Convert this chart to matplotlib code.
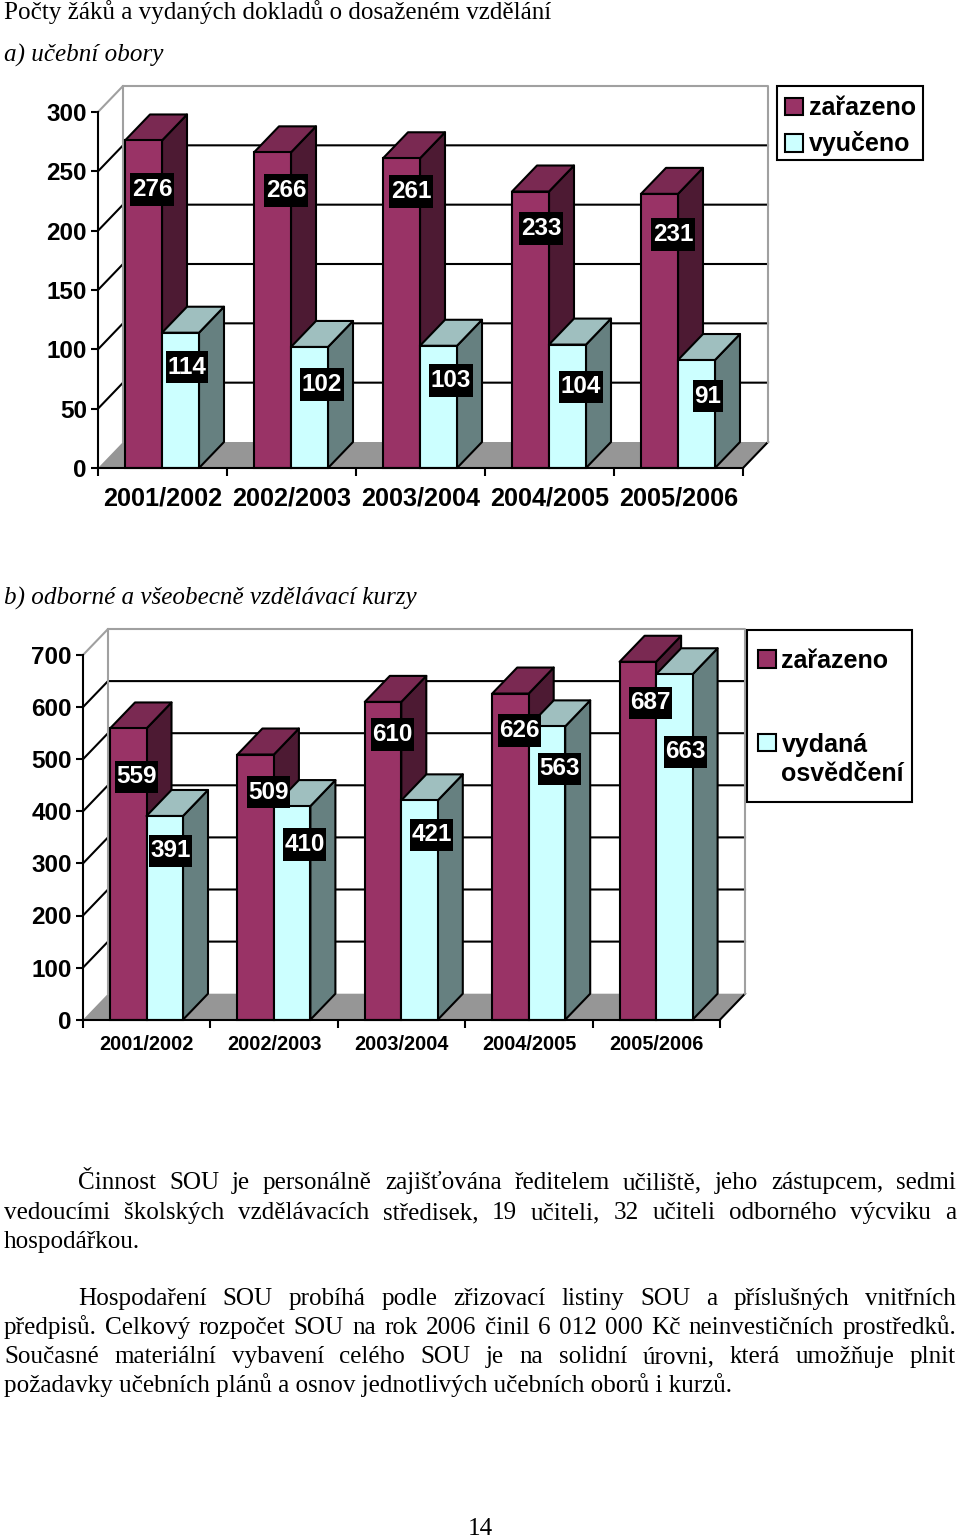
import matplotlib
matplotlib.use("Agg")
import matplotlib.pyplot as plt
from matplotlib.patches import Patch, Polygon, Rectangle

W, H = 960, 1537

# ==============================
# data
# ==============================
years = ["2001/2002", "2002/2003", "2003/2004", "2004/2005", "2005/2006"]

zarazeno_a = [276, 266, 261, 233, 231]
vyuceno_a = [114, 102, 103, 104, 91]
zarazeno_b = [559, 509, 610, 626, 687]
osvedceni_b = [391, 410, 421, 563, 663]

ticks_a = [0, 50, 100, 150, 200, 250, 300]
ticks_b = [0, 100, 200, 300, 400, 500, 600, 700]

# label offsets from the top centre of each bar, pixels (right, down)
label_off_a1 = [(8.5, 48.6), (13.5, 37.7), (9.5, 32.8), (10.5, 36.6), (13.5, 40.2)]
label_off_a2 = [(6.5, 34.3), (12.5, 37.1), (12.5, 34.3), (13.5, 42.4), (11.5, 36.0)]
label_off_b1 = [(8.5, 48.5), (13.0, 37.5), (9.7, 33.0), (9.3, 36.5), (12.9, 41.2)]
label_off_b2 = [(5.8, 35.0), (12.4, 38.0), (12.0, 34.6), (12.6, 42.6), (11.2, 77.7)]

body_lines = [
    ("Činnost SOU je personálně zajišťována ředitelem učiliště, jeho zástupcem, sedmi", 78, 956, 1189),
    ("vedoucími školských vzdělávacích středisek, 19 učiteli, 32 učiteli odborného výcviku a", 4, 956, 1219),
    ("hospodářkou.", 4, None, 1248),
    ("Hospodaření SOU probíhá podle zřizovací listiny SOU a příslušných vnitřních", 78, 956, 1305),
    ("předpisů. Celkový rozpočet SOU na rok 2006 činil 6 012 000 Kč neinvestičních prostředků.", 4, 956, 1334),
    ("Současné materiální vybavení celého SOU je na solidní úrovni, která umožňuje plnit", 4, 956, 1363),
    ("požadavky učebních plánů a osnov jednotlivých učebních oborů i kurzů.", 4, None, 1392),
]

# colours
MAROON = ("#993366", "#4D1A33", "#7A2952")   # front, side, top
CYAN = ("#CCFFFF", "#668080", "#9FBFBF")
FLOOR = "#969696"
WALL = "#A0A0A0"
SANS = "Liberation Sans"
SERIF = "Liberation Serif"
SERIF_SIZE = 18.1

LW = 1.5
plt.rcParams["font.family"] = [SANS, "DejaVu Sans"]
fig = plt.figure(figsize=(W / 100, H / 100), dpi=100)


def fy(y):
    return 1 - y / H


def draw_chart(x0, x1, y_base, y_top, ymax, ticks, s1, s2, off1, off2, xlabel_size, xlabel_pad, bar_off, bar_w, depth):
    ax = fig.add_axes([x0 / W, fy(y_base), (x1 - x0) / W, (y_base - y_top) / H])
    ax.set_xlim(0, 5)
    ax.set_ylim(0, ymax)
    ax.patch.set_visible(False)

    cat_px = (x1 - x0) / 5
    val_px = (y_base - y_top) / ymax
    dx = depth[0] / cat_px
    dy = depth[1] / val_px
    off = bar_off / cat_px
    bw = bar_w / cat_px

    # floor and walls
    ax.add_patch(Polygon([(0, 0), (5, 0), (5 + dx, dy), (dx, dy)], fc=FLOOR, ec="none", clip_on=False, zorder=1))
    ax.plot([5, 5 + dx], [0, dy], color="black", lw=LW, clip_on=False, zorder=1.5)
    for t in ticks[1:-1]:
        ax.plot([0, dx, 5 + dx], [t, t + dy, t + dy], color="black", lw=LW, clip_on=False, zorder=1.5)
    ax.plot([0, dx, 5 + dx, 5 + dx], [ymax, ymax + dy, ymax + dy, dy], color=WALL, lw=LW, clip_on=False, zorder=1.6)
    ax.plot([dx, dx], [dy, ymax + dy], color=WALL, lw=LW, clip_on=False, zorder=1.6)

    # bars, back to front
    z = 2
    for i in range(len(s1)):
        for j, (v, cols) in enumerate([(s1[i], MAROON), (s2[i], CYAN)]):
            left = i + off + j * bw
            right = left + bw
            ax.add_patch(Polygon([(right, 0), (right + dx, dy), (right + dx, v + dy), (right, v)],
                                 fc=cols[1], ec="black", lw=LW, joinstyle="round", clip_on=False, zorder=z))
            ax.add_patch(Polygon([(left, v), (right, v), (right + dx, v + dy), (left + dx, v + dy)],
                                 fc=cols[2], ec="black", lw=LW, joinstyle="round", clip_on=False, zorder=z))
            ax.bar(left, v, width=bw, align="edge", color=cols[0], edgecolor="black", linewidth=LW,
                   clip_on=False, zorder=z + 0.5)
            z += 1

    # value labels
    for j, (vals, offs) in enumerate([(s1, off1), (s2, off2)]):
        for i, v in enumerate(vals):
            ax.annotate(str(v), xy=(i + off + (j + 0.5) * bw, v),
                        xytext=(offs[i][0], -offs[i][1]), textcoords="offset pixels",
                        ha="center", va="center", color="white", fontsize=17.5, fontweight="bold",
                        bbox=dict(boxstyle="square,pad=0.06", mutation_aspect=3.4, fc="black", ec="none"),
                        annotation_clip=False, zorder=50)

    # axes
    for s in ("top", "right"):
        ax.spines[s].set_visible(False)
    for s in ("left", "bottom"):
        ax.spines[s].set_linewidth(LW)
        ax.spines[s].set_zorder(40)
    ax.set_yticks(ticks)
    ax.tick_params(axis="y", length=5, width=LW, pad=3, labelsize=17.5)
    for lab in ax.get_yticklabels():
        lab.set_fontweight("bold")
    ax.set_xticks(range(6), labels=[""] * 6)
    ax.set_xticks([i + 0.5 for i in range(5)], labels=years, minor=True)
    ax.tick_params(axis="x", which="major", length=5.5, width=LW)
    ax.tick_params(axis="x", which="minor", length=0, pad=xlabel_pad, labelsize=xlabel_size)
    for lab in ax.get_xticklabels(minor=True):
        lab.set_fontweight("bold")
    return ax


def add_legend(ax, labels, box, anchor, spacing, handle_shift=0):
    # frame drawn apart so its size can follow the picture exactly
    bx0, by0, bx1, by1 = box
    ax.add_patch(Rectangle((bx0 / W, fy(by1)), (bx1 - bx0) / W, (by1 - by0) / H, transform=fig.transFigure,
                           fc="white", ec="black", lw=LW, clip_on=False, zorder=59))
    handles = [Patch(fc=MAROON[0], ec="black", lw=LW), Patch(fc=CYAN[0], ec="black", lw=LW)]
    leg = ax.legend(handles, labels, loc="upper left", bbox_to_anchor=(anchor[0] / W, fy(anchor[1])),
                    bbox_transform=fig.transFigure, borderaxespad=0, frameon=False,
                    handlelength=0.7, handleheight=0.7, handletextpad=0.24, labelspacing=spacing, borderpad=0,
                    prop={"family": SANS, "weight": "bold", "size": 18})
    for t in leg.get_texts():
        t.set_linespacing(1.25)
    # swatch of the two line entry sits on its first line
    h = leg.legend_handles[1]
    h.set_y(h.get_y() + handle_shift)
    leg.set_zorder(60)
    return leg


ax_a = draw_chart(98, 743, 468, 112, 300, ticks_a, zarazeno_a, vyuceno_a, label_off_a1, label_off_a2,
                  18.2, 13, 27, 37, (25, 26))
add_legend(ax_a, ["zařazeno", "vyučeno"], (777, 86, 923, 160), (785, 96), 0.46)

ax_b = draw_chart(83, 720, 1019.7, 655, 700, ticks_b, zarazeno_b, osvedceni_b, label_off_b1, label_off_b2,
                  14.3, 11, 27, 36.5, (25, 26))
add_legend(ax_b, ["zařazeno", "vydaná\nosvědčení"], (747, 630, 912, 802), (758, 649), 2.41, handle_shift=13)

# ==============================
# page text
# ==============================
fig.text(4 / W, fy(19), "Počty žáků a vydaných dokladů o dosaženém vzdělání",
         family=SERIF, fontsize=SERIF_SIZE, va="baseline")
fig.text(4 / W, fy(62), "a) učební obory", family=SERIF, style="italic", fontsize=SERIF_SIZE, va="baseline")
fig.text(4 / W, fy(605), "b) odborné a všeobecně vzdělávací kurzy", family=SERIF, style="italic",
         fontsize=SERIF_SIZE, va="baseline")
fig.text(480 / W, fy(1535), "14", family=SERIF, fontsize=SERIF_SIZE, ha="center", va="baseline")

renderer = fig.canvas.get_renderer()
for line, x_left, x_right, y in body_lines:
    if x_right is None:
        fig.text(x_left / W, fy(y), line, family=SERIF, fontsize=SERIF_SIZE, va="baseline")
        continue
    # justified: each word placed on its own
    words = line.split(" ")
    texts = [fig.text(0, fy(y), w, family=SERIF, fontsize=SERIF_SIZE, va="baseline") for w in words]
    widths = [t.get_window_extent(renderer).width for t in texts]
    gap = (x_right - x_left - sum(widths)) / (len(words) - 1)
    x = x_left
    for t, w in zip(texts, widths):
        t.set_x(x / W)
        x += w + gap

fig.savefig("out.png", dpi=100)
